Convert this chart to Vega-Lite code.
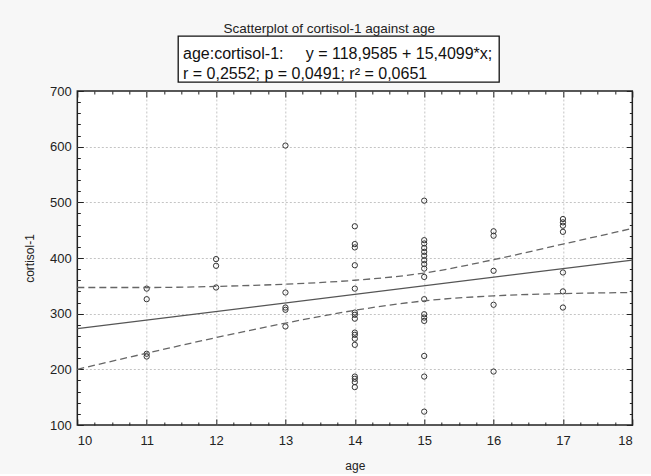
{
  "$schema": "https://vega.github.io/schema/vega-lite/v6.json",
  "background": "#f7f7f7",
  "padding": {"left": 22, "top": 21, "right": 17, "bottom": 2},
  "config": {"font": "Liberation Sans", "view": {"stroke": null}},
  "title": {"text": "Scatterplot of cortisol-1 against age", "fontSize": 13.5, "fontWeight": "normal", "color": "#222", "anchor": "middle", "offset": 0, "font": "Liberation Sans"},
  "center": true,
  "spacing": 0,
  "datasets": {
    "pts": [
      {"age": 11, "cortisol": 345}, {"age": 11, "cortisol": 326}, {"age": 11, "cortisol": 228}, {"age": 11, "cortisol": 223},
      {"age": 12, "cortisol": 398}, {"age": 12, "cortisol": 386}, {"age": 12, "cortisol": 347},
      {"age": 13, "cortisol": 602}, {"age": 13, "cortisol": 338}, {"age": 13, "cortisol": 311}, {"age": 13, "cortisol": 307}, {"age": 13, "cortisol": 277},
      {"age": 14, "cortisol": 457}, {"age": 14, "cortisol": 425}, {"age": 14, "cortisol": 419}, {"age": 14, "cortisol": 387}, {"age": 14, "cortisol": 345},
      {"age": 14, "cortisol": 302}, {"age": 14, "cortisol": 298}, {"age": 14, "cortisol": 291}, {"age": 14, "cortisol": 266}, {"age": 14, "cortisol": 262},
      {"age": 14, "cortisol": 255}, {"age": 14, "cortisol": 244}, {"age": 14, "cortisol": 187}, {"age": 14, "cortisol": 183}, {"age": 14, "cortisol": 177}, {"age": 14, "cortisol": 168},
      {"age": 15, "cortisol": 503}, {"age": 15, "cortisol": 432}, {"age": 15, "cortisol": 426}, {"age": 15, "cortisol": 418}, {"age": 15, "cortisol": 411},
      {"age": 15, "cortisol": 404}, {"age": 15, "cortisol": 396}, {"age": 15, "cortisol": 389}, {"age": 15, "cortisol": 381}, {"age": 15, "cortisol": 366},
      {"age": 15, "cortisol": 326}, {"age": 15, "cortisol": 299}, {"age": 15, "cortisol": 293}, {"age": 15, "cortisol": 287}, {"age": 15, "cortisol": 224},
      {"age": 15, "cortisol": 187}, {"age": 15, "cortisol": 124},
      {"age": 16, "cortisol": 448}, {"age": 16, "cortisol": 440}, {"age": 16, "cortisol": 377}, {"age": 16, "cortisol": 316}, {"age": 16, "cortisol": 196},
      {"age": 17, "cortisol": 470}, {"age": 17, "cortisol": 464}, {"age": 17, "cortisol": 458}, {"age": 17, "cortisol": 447}, {"age": 17, "cortisol": 374},
      {"age": 17, "cortisol": 340}, {"age": 17, "cortisol": 311}
    ],
    "fit": [
      {"age": 10, "cortisol": 273.06}, {"age": 18, "cortisol": 396.26}
    ],
    "ci": [
      {"age": 10, "cortisol": 347, "bound": "upper"}, {"age": 11, "cortisol": 347, "bound": "upper"}, {"age": 12, "cortisol": 349, "bound": "upper"},
      {"age": 13, "cortisol": 353, "bound": "upper"}, {"age": 14, "cortisol": 360, "bound": "upper"}, {"age": 15, "cortisol": 373, "bound": "upper"},
      {"age": 16, "cortisol": 397, "bound": "upper"}, {"age": 17, "cortisol": 425, "bound": "upper"}, {"age": 18, "cortisol": 453, "bound": "upper"},
      {"age": 10, "cortisol": 200, "bound": "lower"}, {"age": 11, "cortisol": 229, "bound": "lower"}, {"age": 12, "cortisol": 257, "bound": "lower"},
      {"age": 13, "cortisol": 283, "bound": "lower"}, {"age": 14, "cortisol": 306, "bound": "lower"}, {"age": 15, "cortisol": 323, "bound": "lower"},
      {"age": 16, "cortisol": 332, "bound": "lower"}, {"age": 17, "cortisol": 336, "bound": "lower"}, {"age": 18, "cortisol": 338, "bound": "lower"}
    ],
    "box": [
      {"row": 1, "line": "age:cortisol-1:\u00a0\u00a0\u00a0\u00a0 y = 118,9585 + 15,4099*x;"},
      {"row": 2, "line": "r = 0,2552; p = 0,0491; r² = 0,0651"}
    ]
  },
  "vconcat": [
    {
      "spacing": 0,
      "hconcat": [
        {
          "width": 321,
          "height": 46,
          "view": {"stroke": "#111", "strokeWidth": 1.3, "fill": "white"},
          "data": {"name": "box"},
          "mark": {"type": "text", "align": "left", "baseline": "middle", "fontSize": 16, "dx": 5, "dy": 5, "color": "#111"},
          "encoding": {
            "x": {"datum": 0, "type": "quantitative", "scale": {"domain": [0, 1]}, "axis": null},
            "y": {"field": "row", "type": "ordinal", "scale": {"type": "point", "padding": 0.6}, "axis": null},
            "text": {"field": "line"}
          }
        },
        {
          "width": 35,
          "height": 46,
          "view": {"stroke": null, "fill": null},
          "data": {"values": [{}]},
          "mark": {"type": "point", "opacity": 0},
          "encoding": {}
        }
      ]
    },
    {
      "width": 555,
      "height": 334,
      "view": {"stroke": "#222", "strokeWidth": 1.5, "fill": "white"},
      "layer": [
        {
          "data": {"name": "pts"},
          "mark": {"type": "point", "shape": "circle", "filled": false, "size": 28, "stroke": "#333", "strokeWidth": 1, "opacity": 1},
          "encoding": {
            "x": {
              "field": "age", "type": "quantitative",
              "scale": {"domain": [10, 18], "nice": false, "zero": false},
              "axis": {
                "orient": "bottom", "title": "age",
                "values": [10,10.25,10.5,10.75,11,11.25,11.5,11.75,12,12.25,12.5,12.75,13,13.25,13.5,13.75,14,14.25,14.5,14.75,15,15.25,15.5,15.75,16,16.25,16.5,16.75,17,17.25,17.5,17.75,18],
                "labelExpr": "datum.value % 1 === 0 ? datum.value : ''",
                "tickSize": {"condition": {"test": "datum.value % 1 === 0", "value": -6}, "value": -3},
                "tickColor": "#222",
                "domain": false,
                "grid": true, "gridColor": "#c4c4c4", "gridDash": [2, 2],
                "gridOpacity": {"condition": {"test": "datum.value % 1 === 0 && datum.value > 10 && datum.value < 18", "value": 1}, "value": 0},
                "labelFontSize": 13, "labelColor": "#222", "labelPadding": 15, "labelOverlap": false,
                "titleFontSize": 12, "titleFontWeight": "normal", "titleColor": "#222", "titlePadding": 10
              }
            },
            "y": {
              "field": "cortisol", "type": "quantitative",
              "scale": {"domain": [100, 700], "nice": false, "zero": false},
              "axis": {
                "orient": "left", "title": "cortisol-1",
                "values": [100,120,140,160,180,200,220,240,260,280,300,320,340,360,380,400,420,440,460,480,500,520,540,560,580,600,620,640,660,680,700],
                "labelExpr": "datum.value % 100 === 0 ? datum.value : ''",
                "tickSize": {"condition": {"test": "datum.value % 100 === 0", "value": -6}, "value": -3},
                "tickColor": "#222",
                "domain": false,
                "grid": true, "gridColor": "#c4c4c4", "gridDash": [2, 2],
                "gridOpacity": {"condition": {"test": "datum.value % 100 === 0 && datum.value > 100 && datum.value < 700", "value": 1}, "value": 0},
                "labelFontSize": 13, "labelColor": "#222", "labelPadding": 12, "labelOverlap": false,
                "titleFontSize": 12, "titleFontWeight": "normal", "titleColor": "#222", "titlePadding": 13
              }
            }
          }
        },
        {
          "data": {"name": "fit"},
          "mark": {"type": "line", "color": "#555", "strokeWidth": 1.2},
          "encoding": {
            "x": {
              "field": "age", "type": "quantitative",
              "axis": {
                "orient": "top", "title": null, "labels": false, "grid": false, "domain": false, "minExtent": 0, "maxExtent": 0,
                "values": [10,10.25,10.5,10.75,11,11.25,11.5,11.75,12,12.25,12.5,12.75,13,13.25,13.5,13.75,14,14.25,14.5,14.75,15,15.25,15.5,15.75,16,16.25,16.5,16.75,17,17.25,17.5,17.75,18],
                "tickSize": {"condition": {"test": "datum.value % 1 === 0", "value": -6}, "value": -3},
                "tickColor": "#222"
              }
            },
            "y": {
              "field": "cortisol", "type": "quantitative",
              "axis": {
                "orient": "right", "title": null, "labels": false, "grid": false, "domain": false, "minExtent": 0, "maxExtent": 0,
                "values": [100,120,140,160,180,200,220,240,260,280,300,320,340,360,380,400,420,440,460,480,500,520,540,560,580,600,620,640,660,680,700],
                "tickSize": {"condition": {"test": "datum.value % 100 === 0", "value": -6}, "value": -3},
                "tickColor": "#222"
              }
            }
          }
        },
        {
          "data": {"name": "ci"},
          "mark": {"type": "line", "color": "#666", "strokeWidth": 1.3, "strokeDash": [7, 4], "interpolate": "monotone"},
          "encoding": {
            "x": {"field": "age", "type": "quantitative", "axis": null},
            "y": {"field": "cortisol", "type": "quantitative", "axis": null},
            "detail": {"field": "bound"}
          }
        }
      ],
      "resolve": {"axis": {"x": "independent", "y": "independent"}}
    }
  ]
}
